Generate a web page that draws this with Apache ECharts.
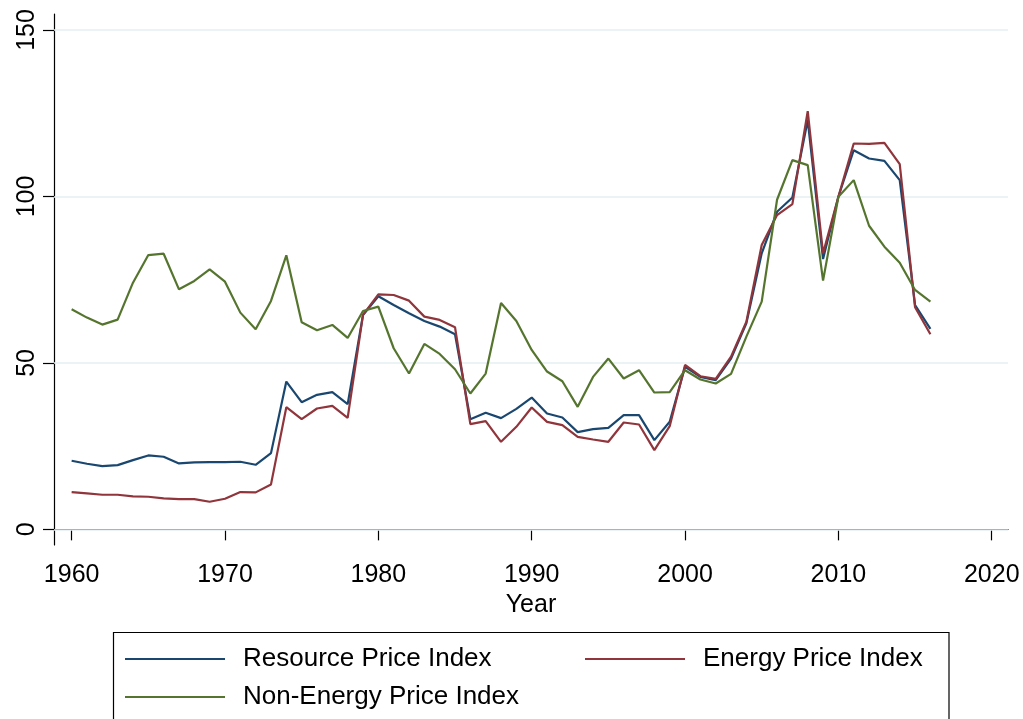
<!DOCTYPE html>
<html>
<head>
<meta charset="utf-8">
<title>Resource Price Index</title>
<script src="https://cdn.jsdelivr.net/npm/echarts@6/dist/echarts.min.js"></script>
<style>
  html, body { margin: 0; padding: 0; background: #fff; }
  #main { width: 1023px; height: 719px; }
</style>
</head>
<body>
<div id="main"></div>
<script>
const years = [
  1960, 1961, 1962, 1963, 1964, 1965, 1966, 1967, 1968, 1969,
  1970, 1971, 1972, 1973, 1974, 1975, 1976, 1977, 1978, 1979,
  1980, 1981, 1982, 1983, 1984, 1985, 1986, 1987, 1988, 1989,
  1990, 1991, 1992, 1993, 1994, 1995, 1996, 1997, 1998, 1999,
  2000, 2001, 2002, 2003, 2004, 2005, 2006, 2007, 2008, 2009,
  2010, 2011, 2012, 2013, 2014, 2015, 2016
]
const resourceIdx = [
  20.6, 19.7, 19.0, 19.3, 20.8, 22.2, 21.8, 19.8, 20.1, 20.2,
  20.2, 20.3, 19.4, 22.9, 44.4, 38.2, 40.4, 41.2, 37.6, 64.4,
  70.0, 67.4, 64.9, 62.6, 60.9, 58.6, 33.1, 35.0, 33.4, 36.2,
  39.6, 34.8, 33.6, 29.2, 30.1, 30.5, 34.3, 34.3, 26.8, 32.3,
  48.8, 45.8, 44.8, 51.3, 61.9, 82.9, 95.4, 99.7, 122.9, 81.2,
  99.9, 113.9, 111.4, 110.7, 104.9, 67.4, 60.2
]
const energyIdx = [
  11.2, 10.8, 10.4, 10.4, 9.9, 9.8, 9.3, 9.1, 9.1, 8.3,
  9.2, 11.2, 11.1, 13.5, 36.7, 33.1, 36.3, 37.1, 33.5, 64.4,
  70.6, 70.4, 68.7, 63.9, 62.9, 60.7, 31.6, 32.5, 26.3, 30.8,
  36.6, 32.3, 31.3, 27.8, 27.0, 26.3, 32.1, 31.5, 23.8, 31.0,
  49.4, 46.0, 45.2, 51.9, 62.4, 85.4, 94.4, 97.7, 125.6, 82.9,
  99.9, 115.9, 115.8, 116.1, 109.7, 66.7, 58.6
]
const nonEnergyIdx = [
  66.1, 63.6, 61.5, 63.0, 74.1, 82.4, 82.8, 72.1, 74.6, 78.1,
  74.4, 65.1, 60.1, 68.6, 82.3, 62.2, 59.8, 61.4, 57.5, 65.6,
  66.9, 54.4, 46.8, 55.7, 52.7, 48.1, 40.8, 46.8, 68.0, 62.6,
  53.9, 47.4, 44.5, 36.8, 45.8, 51.3, 45.3, 47.8, 41.1, 41.2,
  47.8, 45.0, 43.8, 46.7, 57.9, 68.4, 99.0, 110.9, 109.4, 74.7,
  99.9, 104.9, 91.2, 84.9, 80.1, 71.9, 68.4
]
const xTicks = [1960, 1970, 1980, 1990, 2000, 2010, 2020]
const yTicks = [0, 50, 100, 150]
const seriesNames = ['Resource Price Index', 'Energy Price Index', 'Non-Energy Price Index']

const font = 'Liberation Sans, Arial, Helvetica, sans-serif'
const colors = ['#1a476f', '#90353b', '#55752f']

function pairs (vals) {
  return years.map((y, i) => [y, vals[i]])
}

let chart = echarts.init(document.getElementById('main'))

function legendItem (name, left, top) {
  return {
    data: [name],
    left: left,
    top: top,
    orient: 'horizontal',
    padding: 0,
    icon: 'rect',
    itemWidth: 100,
    itemHeight: 2,
    selectedMode: false,
    textStyle: {
      fontFamily: font,
      fontSize: 26,
      color: '#000',
      lineHeight: 26,
      padding: [0, 0, 0, 13]
    }
  }
}

let option = {
  backgroundColor: '#fff',
  animation: false,
  grid: {
    left: 54,
    right: 15,
    top: 14,
    bottom: 174
  },
  xAxis: {
    type: 'value',
    min: 1958.85,
    max: 2021.06,
    name: 'Year',
    nameLocation: 'middle',
    nameGap: 45,
    nameTextStyle: { fontFamily: font, fontSize: 25, color: '#000' },
    axisLine: { lineStyle: { color: '#000', width: 1.2 } },
    axisTick: { length: 11, customValues: xTicks, lineStyle: { color: '#000', width: 1.2 } },
    axisLabel: {
      customValues: xTicks,
      formatter: v => String(v),
      margin: 18,
      fontFamily: font,
      fontSize: 25,
      color: '#000'
    },
    splitLine: { show: false }
  },
  yAxis: {
    type: 'value',
    min: -4.7,
    max: 154.8,
    axisLine: { show: true, lineStyle: { color: '#000', width: 1.2 } },
    axisTick: { show: true, length: 11, customValues: yTicks, lineStyle: { color: '#000', width: 1.2 } },
    axisLabel: {
      customValues: yTicks,
      rotate: 90,
      margin: 14,
      fontFamily: font,
      fontSize: 25,
      color: '#000'
    },
    splitLine: { show: false }
  },
  legend: [
    legendItem(seriesNames[0], 125, 646),
    legendItem(seriesNames[1], 585, 646),
    legendItem(seriesNames[2], 125, 684)
  ],
  graphic: [{
    type: 'rect',
    shape: { x: 113.5, y: 632.5, width: 835.5, height: 120 },
    style: { fill: 'none', stroke: '#000', lineWidth: 1.2 },
    silent: true
  }],
  series: [
    {
      name: seriesNames[0],
      type: 'line',
      data: pairs(resourceIdx),
      showSymbol: false,
      color: colors[0],
      lineStyle: { width: 2.2, color: colors[0] },
      z: 2,
      markLine: {
        silent: true,
        z: 1,
        symbol: ['none', 'none'],
        label: { show: false },
        lineStyle: { color: '#e6eff1', width: 1.5, type: 'solid' },
        data: yTicks.map(v => ({ yAxis: v }))
      }
    },
    {
      name: seriesNames[1],
      type: 'line',
      data: pairs(energyIdx),
      showSymbol: false,
      color: colors[1],
      lineStyle: { width: 2.2, color: colors[1] },
      z: 3
    },
    {
      name: seriesNames[2],
      type: 'line',
      data: pairs(nonEnergyIdx),
      showSymbol: false,
      color: colors[2],
      lineStyle: { width: 2.2, color: colors[2] },
      z: 4
    }
  ]
}
chart.setOption(option)
</script>
</body>
</html>
